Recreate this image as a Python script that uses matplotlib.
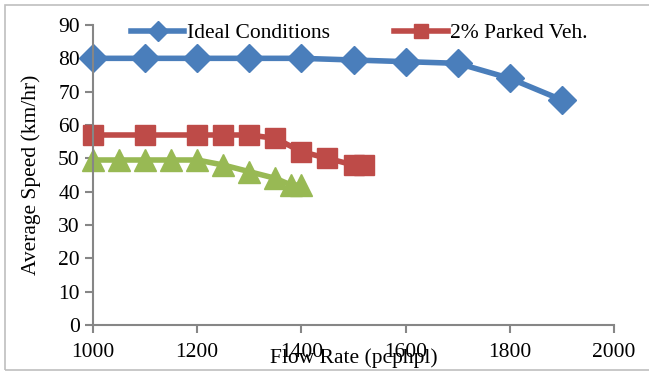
import matplotlib
matplotlib.use("Agg")
import matplotlib.pyplot as plt
from matplotlib.patches import Rectangle

# === Speed vs flow data ===
ideal_flow = [1000, 1100, 1200, 1300, 1400, 1500, 1600, 1700, 1800, 1900]
ideal_speed = [80, 80, 80, 80, 80, 79.5, 79, 78.5, 74, 67.5]

parked_flow = [1000, 1100, 1200, 1250, 1300, 1350, 1400, 1450, 1500, 1520]
parked_speed = [57, 57, 57, 57, 57, 56, 52, 50, 48, 48]

third_flow = [1000, 1050, 1100, 1150, 1200, 1250, 1300, 1350, 1380, 1400]
third_speed = [49.5, 49.5, 49.5, 49.5, 49.5, 48, 46, 44, 42, 42]

x_ticks = [1000, 1200, 1400, 1600, 1800, 2000]
y_ticks = list(range(0, 100, 10))

plt.rcParams["font.family"] = ["Liberation Serif", "DejaVu Serif"]
FS = 15.5

fig = plt.figure(figsize=(6.49, 3.72), dpi=100)
ax = fig.add_axes([93 / 649, 1 - 325 / 372, 521 / 649, 300 / 372])

# frame around the whole chart
fig.patches.append(Rectangle((4.5 / 649, 2 / 372), 1, 365.5 / 372,
                             transform=fig.transFigure, fill=False,
                             edgecolor="#bfbfbf", linewidth=1.2))

blue, red, green = "#4a7ebb", "#be4b48", "#98b954"

ax.plot(ideal_flow, ideal_speed, color=blue, lw=4, marker="D", ms=14,
        label="Ideal Conditions", zorder=3)
ax.plot(parked_flow, parked_speed, color=red, lw=4, marker="s", ms=14,
        label="2% Parked Veh.", zorder=3)
ax.plot(third_flow, third_speed, color=green, lw=4, marker="^", ms=16,
        zorder=3)

ax.set_xlim(1000, 2000)
ax.set_ylim(0, 90)
ax.set_xticks(x_ticks)
ax.set_yticks(y_ticks)

for side in ["top", "right"]:
    ax.spines[side].set_visible(False)
for side in ["left", "bottom"]:
    ax.spines[side].set_color("#868686")
    ax.spines[side].set_linewidth(1.5)
ax.spines["left"].set_zorder(4)
ax.tick_params(colors="#868686", width=1.5, length=6, direction="out",
               labelcolor="black", labelsize=FS)
ax.tick_params(axis="x", pad=7)

ax.set_ylabel("Average Speed (km/hr)", fontsize=FS, labelpad=12)
ax.set_xlabel("Flow Rate (pcphpl)", fontsize=FS, labelpad=-10)

leg = ax.legend(loc="upper left", bbox_to_anchor=(0.035, 1.07), ncol=2,
                frameon=False, fontsize=FS, handlelength=2.5,
                handletextpad=0.1, columnspacing=3.0, markerscale=0.7)

for line in ax.lines:
    line.set_clip_on(False)

fig.savefig("out.png", dpi=100)
